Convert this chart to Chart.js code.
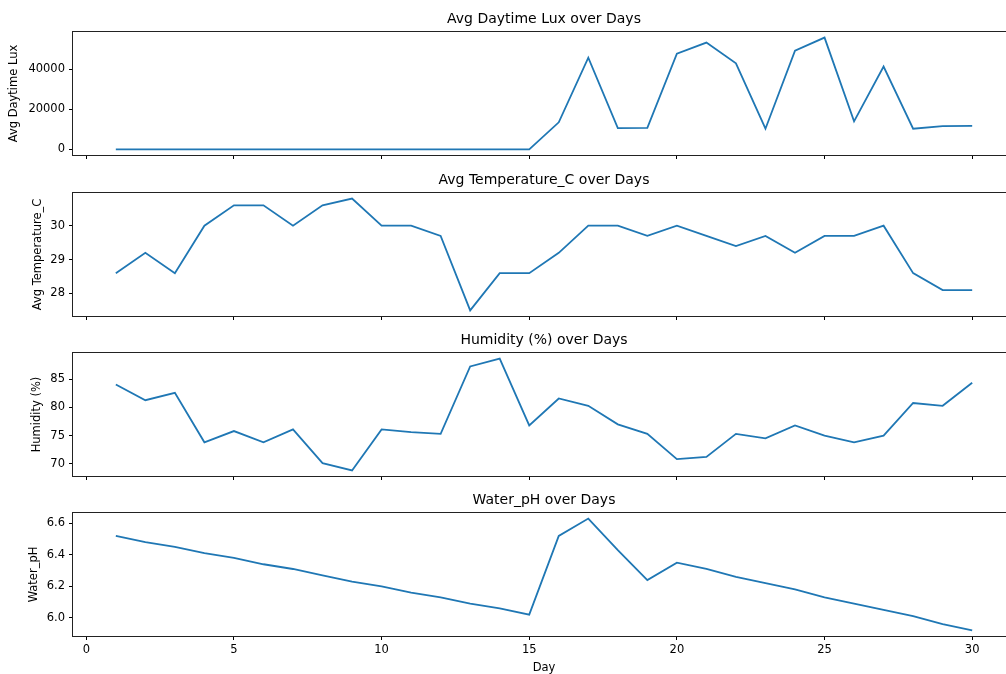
<!DOCTYPE html>
<html>
<head>
<meta charset="utf-8">
<script src="https://cdn.jsdelivr.net/npm/chart.js@4.4.1/dist/chart.umd.min.js"></script>
<style>
    body { margin: 0; width: 1006px; height: 674px; overflow: hidden; background: #fff; position: relative; }
    .panel { position: absolute; left: 0; width: 1030px; }
</style>
</head>
<body>
<div class="panel" style="top:1px;height:174px"><canvas id="lux-chart"></canvas></div>
<div class="panel" style="top:162px;height:174px"><canvas id="temp-chart"></canvas></div>
<div class="panel" style="top:322px;height:174px"><canvas id="hum-chart"></canvas></div>
<div class="panel" style="top:482px;height:193px"><canvas id="ph-chart"></canvas></div>
<script>
// DATA
const days = [1, 2, 3, 4, 5, 6, 7, 8, 9, 10, 11, 12, 13, 14, 15,
    16, 17, 18, 19, 20, 21, 22, 23, 24, 25, 26, 27, 28, 29, 30];
const luxValues = [0, 0, 0, 0, 0, 0, 0, 0, 0, 0, 0, 0, 0, 0, 0,
    13500, 45700, 10600, 10700, 47700, 53200, 42900, 10300, 49200, 55700, 14000, 41300, 10300, 11600, 11700];
const tempValues = [28.6, 29.2, 28.6, 30.0, 30.6, 30.6, 30.0, 30.6, 30.8, 30.0, 30.0, 29.7, 27.5, 28.6, 28.6,
    29.2, 30.0, 30.0, 29.7, 30.0, 29.7, 29.4, 29.7, 29.2, 29.7, 29.7, 30.0, 28.6, 28.1, 28.1];
const humidityValues = [84.1, 81.3, 82.6, 73.8, 75.8, 73.8, 76.1, 70.1, 68.8, 76.1, 75.6, 75.3, 87.3, 88.7, 76.8,
    81.6, 80.3, 77.0, 75.3, 70.8, 71.2, 75.3, 74.5, 76.8, 75.0, 73.8, 75.0, 80.8, 80.3, 84.4];
const phValues = [6.52, 6.48, 6.45, 6.41, 6.38, 6.34, 6.31, 6.27, 6.23, 6.20, 6.16, 6.13, 6.09, 6.06, 6.02,
    6.52, 6.63, 6.43, 6.24, 6.35, 6.31, 6.26, 6.22, 6.18, 6.13, 6.09, 6.05, 6.01, 5.96, 5.92];

const dayTicks = [0, 5, 10, 15, 20, 25, 30];
const luxTicks = [0, 20000, 40000];
const tempTicks = [28, 29, 30];
const humidityTicks = [70, 75, 80, 85];
const phTicks = [6.0, 6.2, 6.4, 6.6];

Chart.defaults.font.family = "'DejaVu Sans', sans-serif";
Chart.defaults.color = '#000';

// draw the box round the plot area (like matplotlib spines)
const framePlugin = {
    id: 'frame',
    afterDraw(chart) {
        const a = chart.chartArea;
        const ctx = chart.ctx;
        ctx.save();
        ctx.strokeStyle = '#222';
        ctx.lineWidth = 1;
        ctx.strokeRect(Math.round(a.left) - 0.5, Math.round(a.top) - 0.5,
            Math.round(a.right - a.left) + 1, Math.round(a.bottom - a.top) + 1);
        ctx.restore();
    }
};

// matplotlib style 5% margins
function padRange(values) {
    const lo = Math.min(...values), hi = Math.max(...values);
    const m = (hi - lo) * 0.05;
    return [lo - m, hi + m];
}

function makeChart(id, values, title, yLabel, yTicks, labelPad, isBottom, fmt) {
    const ctx = document.getElementById(id).getContext('2d');
    const xr = padRange(days);
    const yr = padRange(values);
    return new Chart(ctx, {
        type: 'line',
        data: {
            datasets: [{
                data: days.map((d, i) => ({ x: d, y: values[i] })),
                borderColor: '#1f77b4',
                borderWidth: 1.8,
                pointRadius: 0,
                tension: 0,
                fill: false
            }]
        },
        options: {
            responsive: true,
            maintainAspectRatio: false,
            animation: false,
            layout: { padding: { top: 10.2, right: 15, bottom: 0, left: 0 } },
            plugins: {
                legend: { display: false },
                tooltip: { enabled: false },
                title: {
                    display: true,
                    text: title,
                    fullSize: false,
                    color: '#000',
                    font: { size: 14, weight: 'normal' },
                    padding: { top: 0, bottom: 4 }
                }
            },
            scales: {
                x: {
                    type: 'linear',
                    min: xr[0],
                    max: xr[1],
                    border: { display: false },
                    grid: { drawOnChartArea: false, drawTicks: true, tickLength: 4, tickColor: '#000' },
                    ticks: { display: isBottom, padding: 3, font: { size: 11.5 }, color: '#000' },
                    title: {
                        display: isBottom,
                        text: 'Day',
                        font: { size: 11.5 },
                        padding: { top: 0, bottom: 0 }
                    },
                    afterBuildTicks: s => { s.ticks = dayTicks.map(v => ({ value: v })); },
                    afterFit: s => { s.height = isBottom ? 39 : 20; }
                },
                y: {
                    min: yr[0],
                    max: yr[1],
                    border: { display: false },
                    grid: { drawOnChartArea: false, drawTicks: true, tickLength: 4, tickColor: '#000' },
                    ticks: {
                        padding: 4,
                        font: { size: 11.5 },
                        color: '#000',
                        callback: v => fmt ? fmt(v) : v
                    },
                    title: {
                        display: true,
                        text: yLabel,
                        font: { size: 11.5 },
                        padding: { top: labelPad, bottom: 0 }
                    },
                    afterBuildTicks: s => { s.ticks = yTicks.map(v => ({ value: v })); },
                    afterFit: s => { s.width = 73; }
                }
            }
        },
        plugins: [framePlugin]
    });
}

makeChart('lux-chart', luxValues, 'Avg Daytime Lux over Days', 'Avg Daytime Lux', luxTicks, 7.4, false);
makeChart('temp-chart', tempValues, 'Avg Temperature_C over Days', 'Avg Temperature_C', tempTicks, 30.7, false);
makeChart('hum-chart', humidityValues, 'Humidity (%) over Days', 'Humidity (%)', humidityTicks, 30.6, false);
makeChart('ph-chart', phValues, 'Water_pH over Days', 'Water_pH', phTicks, 26.7, true, v => v.toFixed(1));
</script>
</body>
</html>
